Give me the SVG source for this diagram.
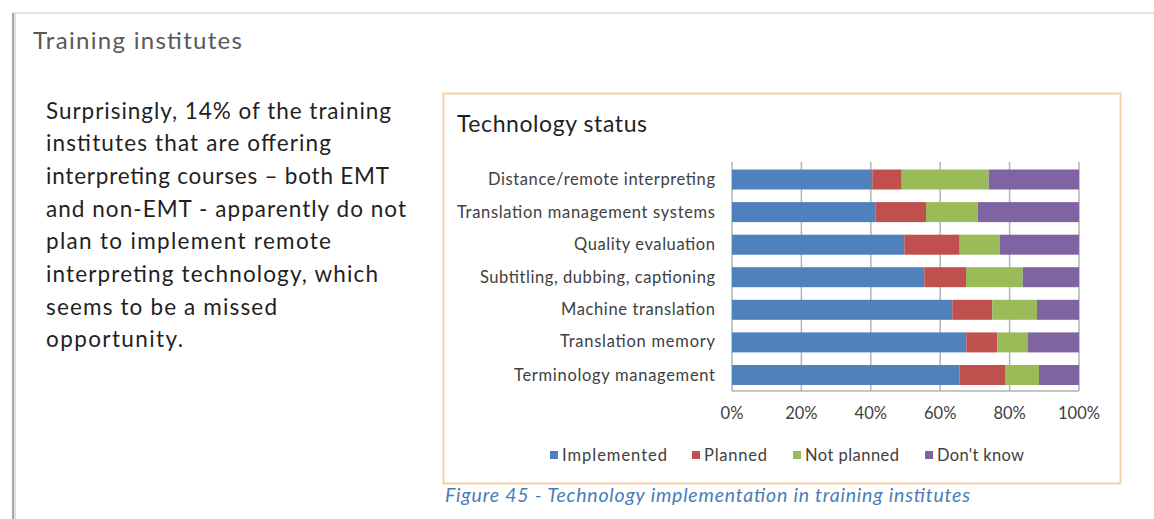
<svg xmlns="http://www.w3.org/2000/svg" width="1154" height="519" viewBox="0 0 1154 519">
<defs>
<style>
.bg{fill:#ffffff}
.t{font-family:Lato,"Open Sans","Liberation Sans",sans-serif;fill:#1f1f1f}
.body{font-size:22.5px}
.cat{font-size:16.5px;fill:#404040;text-anchor:end}
.tick{font-size:16.5px;fill:#404040;text-anchor:middle}
.leg{font-size:16.5px;fill:#404040}
.grid{stroke:#b3b3b3;stroke-width:1.5}
.imp{fill:#4F81BD}.pla{fill:#C0504D}.notp{fill:#9BBB59}.dk{fill:#8064A2}
</style>
</defs>
<rect class="bg" x="0" y="0" width="1154" height="519"/>
<g id="page">
<line x1="12" y1="13" x2="1154" y2="13" stroke="#d9d9d9" stroke-width="1.5"/>
<line x1="13" y1="13" x2="13" y2="519" stroke="#a8a8a8" stroke-width="2"/>
<line x1="15" y1="14" x2="15" y2="519" stroke="#e0e0e0" stroke-width="2"/>
</g>
<g id="heading">
<text class="t" x="33" y="48.5" font-size="24" style="fill:#595959" textLength="209">Training institutes</text>
</g>
<g id="paragraph" class="t body">
<text x="46" y="118.5" textLength="345">Surprisingly, 14% of the training</text>
<text x="46" y="151.2" textLength="285">institutes that are offering</text>
<text x="46" y="183.9" textLength="343">interpreting courses – both EMT</text>
<text x="46" y="216.6" textLength="360">and non-EMT - apparently do not</text>
<text x="46" y="249.3" textLength="285">plan to implement remote</text>
<text x="46" y="282" textLength="332">interpreting technology, which</text>
<text x="46" y="314.7" textLength="231">seems to be a missed</text>
<text x="46" y="347.4" textLength="137">opportunity.</text>
</g>
<g id="chart">
<rect x="443.5" y="93.5" width="677" height="390" fill="#ffffff" stroke="#f9cfa6" stroke-width="2"/>
<text class="t" x="457" y="131.5" font-size="23" textLength="190">Technology status</text>
<g id="gridlines">
<line class="grid" x1="732" y1="162" x2="732" y2="391"/>
<line class="grid" x1="801.4" y1="162" x2="801.4" y2="391"/>
<line class="grid" x1="870.8" y1="162" x2="870.8" y2="391"/>
<line class="grid" x1="940.2" y1="162" x2="940.2" y2="391"/>
<line class="grid" x1="1009.6" y1="162" x2="1009.6" y2="391"/>
<line class="grid" x1="1079" y1="162" x2="1079" y2="391"/>
<line class="grid" x1="732" y1="391" x2="1079" y2="391"/>
</g>
<g id="bars">
<g id="row-distance">
<rect class="imp" x="732" y="169.5" width="140.3" height="20"/>
<rect class="pla" x="872.3" y="169.5" width="29.4" height="20"/>
<rect class="notp" x="901.7" y="169.5" width="87" height="20"/>
<rect class="dk" x="988.7" y="169.5" width="90.3" height="20"/>
</g>
<g id="row-tms">
<rect class="imp" x="732" y="202.1" width="143.3" height="20"/>
<rect class="pla" x="875.3" y="202.1" width="50.7" height="20"/>
<rect class="notp" x="926" y="202.1" width="51.7" height="20"/>
<rect class="dk" x="977.7" y="202.1" width="101.3" height="20"/>
</g>
<g id="row-quality">
<rect class="imp" x="732" y="234.7" width="172.3" height="20"/>
<rect class="pla" x="904.3" y="234.7" width="55.4" height="20"/>
<rect class="notp" x="959.7" y="234.7" width="40.3" height="20"/>
<rect class="dk" x="1000" y="234.7" width="79" height="20"/>
</g>
<g id="row-subtitling">
<rect class="imp" x="732" y="267.2" width="192.3" height="20"/>
<rect class="pla" x="924.3" y="267.2" width="41.7" height="20"/>
<rect class="notp" x="966" y="267.2" width="56.7" height="20"/>
<rect class="dk" x="1022.7" y="267.2" width="56.3" height="20"/>
</g>
<g id="row-mt">
<rect class="imp" x="732" y="299.8" width="220.3" height="20"/>
<rect class="pla" x="952.3" y="299.8" width="40" height="20"/>
<rect class="notp" x="992.3" y="299.8" width="44.7" height="20"/>
<rect class="dk" x="1037" y="299.8" width="42" height="20"/>
</g>
<g id="row-tm">
<rect class="imp" x="732" y="332.4" width="234.3" height="20"/>
<rect class="pla" x="966.3" y="332.4" width="31" height="20"/>
<rect class="notp" x="997.3" y="332.4" width="30.7" height="20"/>
<rect class="dk" x="1028" y="332.4" width="51" height="20"/>
</g>
<g id="row-terminology">
<rect class="imp" x="732" y="365" width="227.7" height="20"/>
<rect class="pla" x="959.7" y="365" width="45.3" height="20"/>
<rect class="notp" x="1005" y="365" width="34" height="20"/>
<rect class="dk" x="1039" y="365" width="40" height="20"/>
</g>
</g>
<g id="categories" class="t cat">
<text x="715" y="185" textLength="227">Distance/remote interpreting</text>
<text x="715" y="217.6" textLength="258">Translation management systems</text>
<text x="715" y="250.2" textLength="141">Quality evaluation</text>
<text x="715" y="282.7" textLength="235">Subtitling, dubbing, captioning</text>
<text x="715" y="315.3" textLength="154">Machine translation</text>
<text x="715" y="347.4" textLength="155">Translation memory</text>
<text x="715" y="380.5" textLength="201">Terminology management</text>
</g>
<g id="ticks" class="t tick">
<text x="732" y="419">0%</text>
<text x="801.4" y="419">20%</text>
<text x="870.8" y="419">40%</text>
<text x="940.2" y="419">60%</text>
<text x="1009.6" y="419">80%</text>
<text x="1079" y="419">100%</text>
</g>
<g id="legend" class="t leg">
<rect class="imp" x="550" y="451" width="8" height="8"/>
<text x="562" y="461" textLength="105">Implemented</text>
<rect class="pla" x="692" y="451" width="8" height="8"/>
<text x="704" y="461" textLength="63">Planned</text>
<rect class="notp" x="793" y="451" width="8" height="8"/>
<text x="805" y="461" textLength="94">Not planned</text>
<rect class="dk" x="925" y="451" width="8" height="8"/>
<text x="937" y="461" textLength="87">Don't know</text>
</g>
</g>
<g id="caption">
<text x="445" y="502" font-family="Lato,'Open Sans','Liberation Sans',sans-serif" font-style="italic" font-size="19.5" fill="#4a7cb8" textLength="525">Figure 45 - Technology implementation in training institutes</text>
</g>
</svg>
